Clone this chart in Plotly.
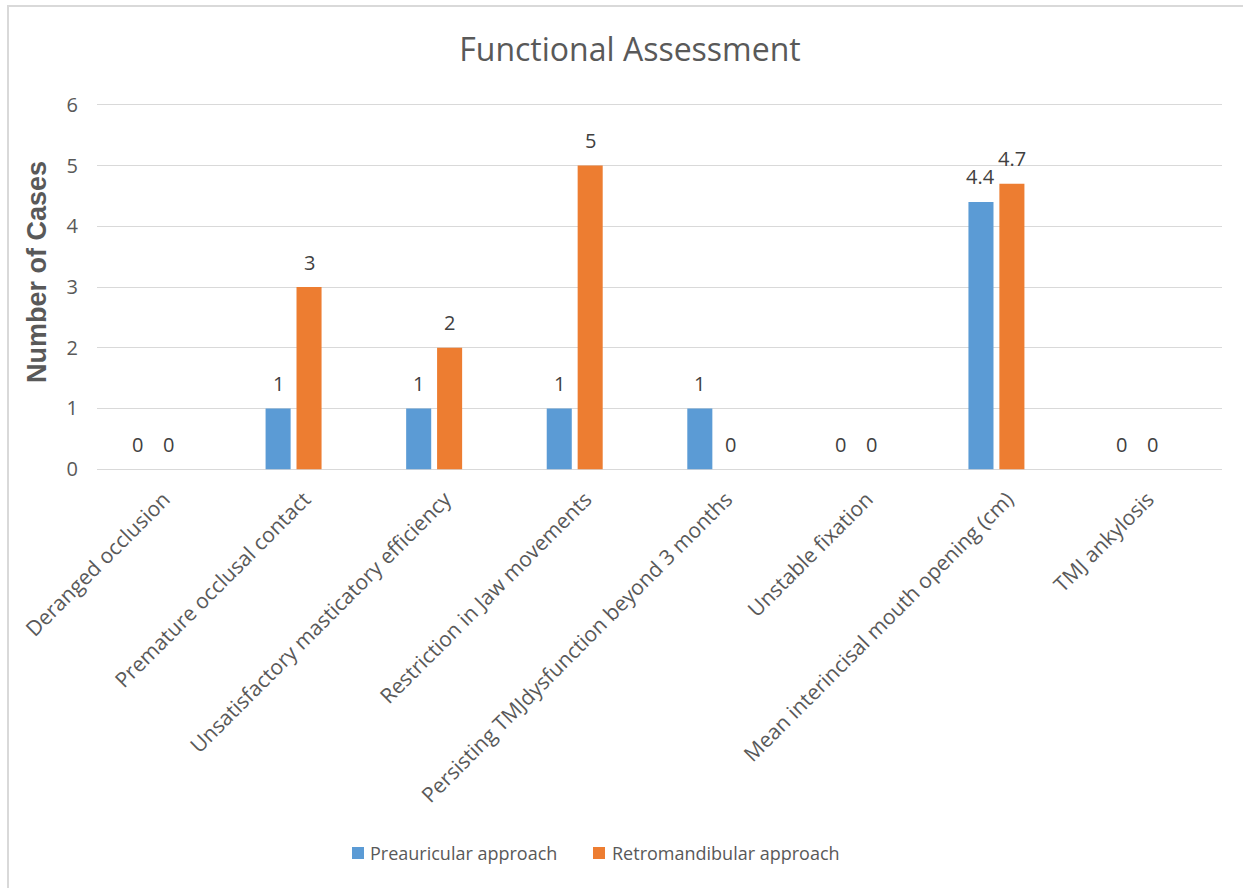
import plotly.graph_objects as go

categories = [
    "Deranged occlusion",
    "Premature occlusal contact",
    "Unsatisfactory masticatory efficiency",
    "Restriction in Jaw movements",
    "Persisting TMJdysfunction beyond 3 months",
    "Unstable fixation",
    "Mean interincisal mouth opening (cm)",
    "TMJ ankylosis",
]
preauricular = [0, 1, 1, 1, 1, 0, 4.4, 0]
retromandibular = [0, 3, 2, 5, 0, 0, 4.7, 0]
series_names = ["Preauricular approach", "Retromandibular approach"]
series_colors = ["#5b9bd5", "#ed7d31"]
y_ticks = [0, 1, 2, 3, 4, 5, 6]

FONT = "Open Sans"
W, H = 1243, 888
L, R, T, B = 97, 21, 103, 417
pw, ph = W - L - R, H - T - B

def px_to_paper_x(px):
    return (px - L) / pw

def px_to_paper_y(py):
    return (H - B - py) / ph

# category centres: first at x=153px, last at x=1137px
step = (1137 - 153) / (len(categories) - 1)
x_range = [-(153 - L) / step, (len(categories) - 1) + (W - R - 1137) / step]

fig = go.Figure()
series = [preauricular, retromandibular]
for name, vals, col in zip(series_names, series, series_colors):
    fig.add_trace(go.Bar(
        x=categories, y=vals, name=name,
        marker=dict(color=col, line=dict(width=0)),
        showlegend=False,
    ))

annotations = []
offsets = [-15.5, 15.5]
for vals, off in zip(series, offsets):
    for c, v in zip(categories, vals):
        annotations.append(dict(
            x=c, y=v, xref="x", yref="y", text="%g" % v, showarrow=False,
            xshift=off, yshift=25, xanchor="center", yanchor="middle",
            font=dict(family=FONT, size=20, color="#404040"),
        ))

# y-axis title
annotations.append(dict(
    x=px_to_paper_x(37), y=px_to_paper_y(272), xref="paper", yref="paper",
    text="<b>Number of Cases</b>", textangle=-90, showarrow=False,
    xanchor="center", yanchor="middle",
    font=dict(family="Liberation Sans", size=27, color="#595959"),
))

# custom legend
legend_sq = [352, 593]
legend_tx = [368, 610]
shapes = []
for name, col, sx, tx in zip(series_names, series_colors, legend_sq, legend_tx):
    shapes.append(dict(type="rect", xref="paper", yref="paper",
                       x0=px_to_paper_x(sx), x1=px_to_paper_x(sx + 12),
                       y0=px_to_paper_y(847), y1=px_to_paper_y(859),
                       fillcolor=col, line=dict(width=0)))
    annotations.append(dict(
        x=px_to_paper_x(tx), y=px_to_paper_y(853), xref="paper", yref="paper",
        text=name, showarrow=False, xanchor="left", yanchor="middle",
        font=dict(family=FONT, size=18, color="#595959"),
    ))

shapes.append(dict(type="rect", xref="paper", yref="paper",
                   x0=px_to_paper_x(8), x1=px_to_paper_x(1260),
                   y0=px_to_paper_y(6), y1=px_to_paper_y(910),
                   line=dict(color="#d9d9d9", width=2), layer="below"))

fig.update_layout(
    width=W, height=H,
    margin=dict(l=L, r=R, t=T, b=B),
    paper_bgcolor="white", plot_bgcolor="white",
    barmode="group", bargap=0.56, bargroupgap=0.19,
    font=dict(family=FONT, color="#595959"),
    title=dict(text="Functional Assessment", x=630 / W, xanchor="center",
               xref="container", y=1 - 50 / H, yanchor="middle",
               font=dict(family=FONT, size=32, color="#595959")),
    xaxis=dict(tickangle=-45, tickfont=dict(family=FONT, size=21, color="#595959"),
               showgrid=False, showline=False, ticks="", range=x_range,
               ticklabelshift=11, ticklabelstandoff=11),
    yaxis=dict(range=[-0.03, 6.03], tickvals=y_ticks, showgrid=True, gridcolor="#d9d9d9",
               gridwidth=1, zeroline=False, showline=False, ticks="",
               ticklabelstandoff=18,
               tickfont=dict(family=FONT, size=20, color="#595959")),
    showlegend=False,
    annotations=annotations,
    shapes=shapes,
)

fig.write_html("out.html")
